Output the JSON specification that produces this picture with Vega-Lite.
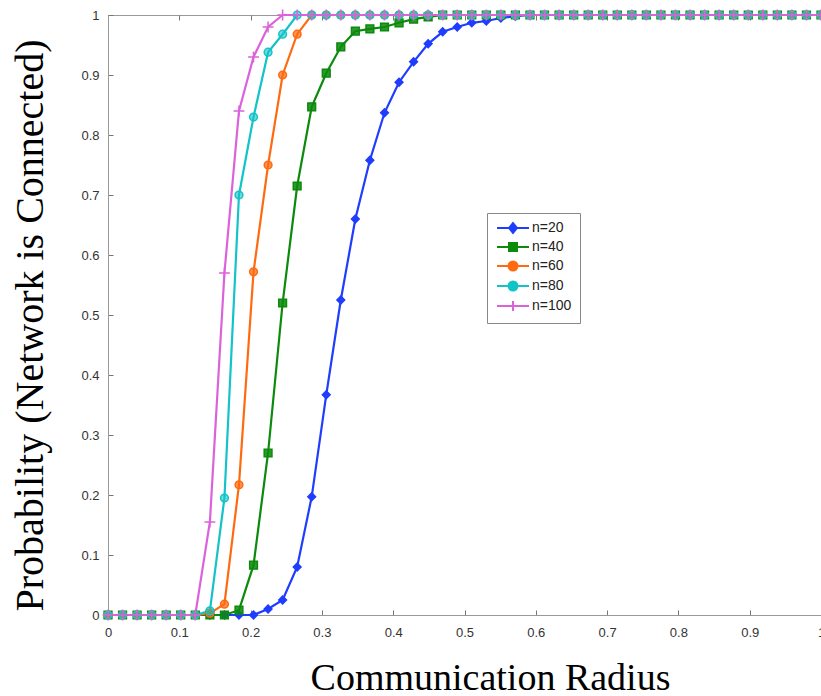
{
 "$schema": "https://vega.github.io/schema/vega-lite/v6.json",
 "width": 713,
 "height": 600,
 "autosize": "none",
 "padding": {"left": 108, "top": 15, "right": 0, "bottom": 81},
 "background": "white",
 "config": {"view": {"stroke": "#999", "strokeWidth": 1}, "axis": {"grid": false}},
 "data": {"values": [
  {"r":0,"p":0,"n":"n=20"},{"r":0.0204,"p":0,"n":"n=20"},{"r":0.0408,"p":0,"n":"n=20"},{"r":0.0612,"p":0,"n":"n=20"},{"r":0.0816,"p":0,"n":"n=20"},{"r":0.102,"p":0,"n":"n=20"},{"r":0.1224,"p":0,"n":"n=20"},{"r":0.1429,"p":0,"n":"n=20"},{"r":0.1633,"p":0,"n":"n=20"},{"r":0.1837,"p":0,"n":"n=20"},{"r":0.2041,"p":0,"n":"n=20"},{"r":0.2245,"p":0.01,"n":"n=20"},{"r":0.2449,"p":0.025,"n":"n=20"},{"r":0.2653,"p":0.08,"n":"n=20"},{"r":0.2857,"p":0.197,"n":"n=20"},{"r":0.3061,"p":0.367,"n":"n=20"},{"r":0.3265,"p":0.525,"n":"n=20"},{"r":0.3469,"p":0.66,"n":"n=20"},{"r":0.3673,"p":0.758,"n":"n=20"},{"r":0.3878,"p":0.837,"n":"n=20"},{"r":0.4082,"p":0.888,"n":"n=20"},{"r":0.4286,"p":0.922,"n":"n=20"},{"r":0.449,"p":0.952,"n":"n=20"},{"r":0.4694,"p":0.972,"n":"n=20"},{"r":0.4898,"p":0.98,"n":"n=20"},{"r":0.5102,"p":0.987,"n":"n=20"},{"r":0.5306,"p":0.99,"n":"n=20"},{"r":0.551,"p":0.995,"n":"n=20"},{"r":0.5714,"p":0.998,"n":"n=20"},{"r":0.5918,"p":1,"n":"n=20"},{"r":0.6122,"p":1,"n":"n=20"},{"r":0.6327,"p":1,"n":"n=20"},{"r":0.6531,"p":1,"n":"n=20"},{"r":0.6735,"p":1,"n":"n=20"},{"r":0.6939,"p":1,"n":"n=20"},{"r":0.7143,"p":1,"n":"n=20"},{"r":0.7347,"p":1,"n":"n=20"},{"r":0.7551,"p":1,"n":"n=20"},{"r":0.7755,"p":1,"n":"n=20"},{"r":0.7959,"p":1,"n":"n=20"},{"r":0.8163,"p":1,"n":"n=20"},{"r":0.8367,"p":1,"n":"n=20"},{"r":0.8571,"p":1,"n":"n=20"},{"r":0.8776,"p":1,"n":"n=20"},{"r":0.898,"p":1,"n":"n=20"},{"r":0.9184,"p":1,"n":"n=20"},{"r":0.9388,"p":1,"n":"n=20"},{"r":0.9592,"p":1,"n":"n=20"},{"r":0.9796,"p":1,"n":"n=20"},{"r":1,"p":1,"n":"n=20"},
  {"r":0,"p":0,"n":"n=40"},{"r":0.0204,"p":0,"n":"n=40"},{"r":0.0408,"p":0,"n":"n=40"},{"r":0.0612,"p":0,"n":"n=40"},{"r":0.0816,"p":0,"n":"n=40"},{"r":0.102,"p":0,"n":"n=40"},{"r":0.1224,"p":0,"n":"n=40"},{"r":0.1429,"p":0,"n":"n=40"},{"r":0.1633,"p":0,"n":"n=40"},{"r":0.1837,"p":0.008,"n":"n=40"},{"r":0.2041,"p":0.083,"n":"n=40"},{"r":0.2245,"p":0.27,"n":"n=40"},{"r":0.2449,"p":0.52,"n":"n=40"},{"r":0.2653,"p":0.715,"n":"n=40"},{"r":0.2857,"p":0.847,"n":"n=40"},{"r":0.3061,"p":0.903,"n":"n=40"},{"r":0.3265,"p":0.947,"n":"n=40"},{"r":0.3469,"p":0.973,"n":"n=40"},{"r":0.3673,"p":0.977,"n":"n=40"},{"r":0.3878,"p":0.98,"n":"n=40"},{"r":0.4082,"p":0.987,"n":"n=40"},{"r":0.4286,"p":0.993,"n":"n=40"},{"r":0.449,"p":0.997,"n":"n=40"},{"r":0.4694,"p":1,"n":"n=40"},{"r":0.4898,"p":1,"n":"n=40"},{"r":0.5102,"p":1,"n":"n=40"},{"r":0.5306,"p":1,"n":"n=40"},{"r":0.551,"p":1,"n":"n=40"},{"r":0.5714,"p":1,"n":"n=40"},{"r":0.5918,"p":1,"n":"n=40"},{"r":0.6122,"p":1,"n":"n=40"},{"r":0.6327,"p":1,"n":"n=40"},{"r":0.6531,"p":1,"n":"n=40"},{"r":0.6735,"p":1,"n":"n=40"},{"r":0.6939,"p":1,"n":"n=40"},{"r":0.7143,"p":1,"n":"n=40"},{"r":0.7347,"p":1,"n":"n=40"},{"r":0.7551,"p":1,"n":"n=40"},{"r":0.7755,"p":1,"n":"n=40"},{"r":0.7959,"p":1,"n":"n=40"},{"r":0.8163,"p":1,"n":"n=40"},{"r":0.8367,"p":1,"n":"n=40"},{"r":0.8571,"p":1,"n":"n=40"},{"r":0.8776,"p":1,"n":"n=40"},{"r":0.898,"p":1,"n":"n=40"},{"r":0.9184,"p":1,"n":"n=40"},{"r":0.9388,"p":1,"n":"n=40"},{"r":0.9592,"p":1,"n":"n=40"},{"r":0.9796,"p":1,"n":"n=40"},{"r":1,"p":1,"n":"n=40"},
  {"r":0,"p":0,"n":"n=60"},{"r":0.0204,"p":0,"n":"n=60"},{"r":0.0408,"p":0,"n":"n=60"},{"r":0.0612,"p":0,"n":"n=60"},{"r":0.0816,"p":0,"n":"n=60"},{"r":0.102,"p":0,"n":"n=60"},{"r":0.1224,"p":0,"n":"n=60"},{"r":0.1429,"p":0.003,"n":"n=60"},{"r":0.1633,"p":0.018,"n":"n=60"},{"r":0.1837,"p":0.217,"n":"n=60"},{"r":0.2041,"p":0.572,"n":"n=60"},{"r":0.2245,"p":0.75,"n":"n=60"},{"r":0.2449,"p":0.9,"n":"n=60"},{"r":0.2653,"p":0.968,"n":"n=60"},{"r":0.2857,"p":1,"n":"n=60"},{"r":0.3061,"p":1,"n":"n=60"},{"r":0.3265,"p":1,"n":"n=60"},{"r":0.3469,"p":1,"n":"n=60"},{"r":0.3673,"p":1,"n":"n=60"},{"r":0.3878,"p":1,"n":"n=60"},{"r":0.4082,"p":1,"n":"n=60"},{"r":0.4286,"p":1,"n":"n=60"},{"r":0.449,"p":1,"n":"n=60"},{"r":0.4694,"p":1,"n":"n=60"},{"r":0.4898,"p":1,"n":"n=60"},{"r":0.5102,"p":1,"n":"n=60"},{"r":0.5306,"p":1,"n":"n=60"},{"r":0.551,"p":1,"n":"n=60"},{"r":0.5714,"p":1,"n":"n=60"},{"r":0.5918,"p":1,"n":"n=60"},{"r":0.6122,"p":1,"n":"n=60"},{"r":0.6327,"p":1,"n":"n=60"},{"r":0.6531,"p":1,"n":"n=60"},{"r":0.6735,"p":1,"n":"n=60"},{"r":0.6939,"p":1,"n":"n=60"},{"r":0.7143,"p":1,"n":"n=60"},{"r":0.7347,"p":1,"n":"n=60"},{"r":0.7551,"p":1,"n":"n=60"},{"r":0.7755,"p":1,"n":"n=60"},{"r":0.7959,"p":1,"n":"n=60"},{"r":0.8163,"p":1,"n":"n=60"},{"r":0.8367,"p":1,"n":"n=60"},{"r":0.8571,"p":1,"n":"n=60"},{"r":0.8776,"p":1,"n":"n=60"},{"r":0.898,"p":1,"n":"n=60"},{"r":0.9184,"p":1,"n":"n=60"},{"r":0.9388,"p":1,"n":"n=60"},{"r":0.9592,"p":1,"n":"n=60"},{"r":0.9796,"p":1,"n":"n=60"},{"r":1,"p":1,"n":"n=60"},
  {"r":0,"p":0,"n":"n=80"},{"r":0.0204,"p":0,"n":"n=80"},{"r":0.0408,"p":0,"n":"n=80"},{"r":0.0612,"p":0,"n":"n=80"},{"r":0.0816,"p":0,"n":"n=80"},{"r":0.102,"p":0,"n":"n=80"},{"r":0.1224,"p":0,"n":"n=80"},{"r":0.1429,"p":0.007,"n":"n=80"},{"r":0.1633,"p":0.195,"n":"n=80"},{"r":0.1837,"p":0.7,"n":"n=80"},{"r":0.2041,"p":0.83,"n":"n=80"},{"r":0.2245,"p":0.938,"n":"n=80"},{"r":0.2449,"p":0.968,"n":"n=80"},{"r":0.2653,"p":1,"n":"n=80"},{"r":0.2857,"p":1,"n":"n=80"},{"r":0.3061,"p":1,"n":"n=80"},{"r":0.3265,"p":1,"n":"n=80"},{"r":0.3469,"p":1,"n":"n=80"},{"r":0.3673,"p":1,"n":"n=80"},{"r":0.3878,"p":1,"n":"n=80"},{"r":0.4082,"p":1,"n":"n=80"},{"r":0.4286,"p":1,"n":"n=80"},{"r":0.449,"p":1,"n":"n=80"},{"r":0.4694,"p":1,"n":"n=80"},{"r":0.4898,"p":1,"n":"n=80"},{"r":0.5102,"p":1,"n":"n=80"},{"r":0.5306,"p":1,"n":"n=80"},{"r":0.551,"p":1,"n":"n=80"},{"r":0.5714,"p":1,"n":"n=80"},{"r":0.5918,"p":1,"n":"n=80"},{"r":0.6122,"p":1,"n":"n=80"},{"r":0.6327,"p":1,"n":"n=80"},{"r":0.6531,"p":1,"n":"n=80"},{"r":0.6735,"p":1,"n":"n=80"},{"r":0.6939,"p":1,"n":"n=80"},{"r":0.7143,"p":1,"n":"n=80"},{"r":0.7347,"p":1,"n":"n=80"},{"r":0.7551,"p":1,"n":"n=80"},{"r":0.7755,"p":1,"n":"n=80"},{"r":0.7959,"p":1,"n":"n=80"},{"r":0.8163,"p":1,"n":"n=80"},{"r":0.8367,"p":1,"n":"n=80"},{"r":0.8571,"p":1,"n":"n=80"},{"r":0.8776,"p":1,"n":"n=80"},{"r":0.898,"p":1,"n":"n=80"},{"r":0.9184,"p":1,"n":"n=80"},{"r":0.9388,"p":1,"n":"n=80"},{"r":0.9592,"p":1,"n":"n=80"},{"r":0.9796,"p":1,"n":"n=80"},{"r":1,"p":1,"n":"n=80"},
  {"r":0,"p":0,"n":"n=100"},{"r":0.0204,"p":0,"n":"n=100"},{"r":0.0408,"p":0,"n":"n=100"},{"r":0.0612,"p":0,"n":"n=100"},{"r":0.0816,"p":0,"n":"n=100"},{"r":0.102,"p":0,"n":"n=100"},{"r":0.1224,"p":0,"n":"n=100"},{"r":0.1429,"p":0.155,"n":"n=100"},{"r":0.1633,"p":0.57,"n":"n=100"},{"r":0.1837,"p":0.84,"n":"n=100"},{"r":0.2041,"p":0.93,"n":"n=100"},{"r":0.2245,"p":0.98,"n":"n=100"},{"r":0.2449,"p":1,"n":"n=100"},{"r":0.2653,"p":1,"n":"n=100"},{"r":0.2857,"p":1,"n":"n=100"},{"r":0.3061,"p":1,"n":"n=100"},{"r":0.3265,"p":1,"n":"n=100"},{"r":0.3469,"p":1,"n":"n=100"},{"r":0.3673,"p":1,"n":"n=100"},{"r":0.3878,"p":1,"n":"n=100"},{"r":0.4082,"p":1,"n":"n=100"},{"r":0.4286,"p":1,"n":"n=100"},{"r":0.449,"p":1,"n":"n=100"},{"r":0.4694,"p":1,"n":"n=100"},{"r":0.4898,"p":1,"n":"n=100"},{"r":0.5102,"p":1,"n":"n=100"},{"r":0.5306,"p":1,"n":"n=100"},{"r":0.551,"p":1,"n":"n=100"},{"r":0.5714,"p":1,"n":"n=100"},{"r":0.5918,"p":1,"n":"n=100"},{"r":0.6122,"p":1,"n":"n=100"},{"r":0.6327,"p":1,"n":"n=100"},{"r":0.6531,"p":1,"n":"n=100"},{"r":0.6735,"p":1,"n":"n=100"},{"r":0.6939,"p":1,"n":"n=100"},{"r":0.7143,"p":1,"n":"n=100"},{"r":0.7347,"p":1,"n":"n=100"},{"r":0.7551,"p":1,"n":"n=100"},{"r":0.7755,"p":1,"n":"n=100"},{"r":0.7959,"p":1,"n":"n=100"},{"r":0.8163,"p":1,"n":"n=100"},{"r":0.8367,"p":1,"n":"n=100"},{"r":0.8571,"p":1,"n":"n=100"},{"r":0.8776,"p":1,"n":"n=100"},{"r":0.898,"p":1,"n":"n=100"},{"r":0.9184,"p":1,"n":"n=100"},{"r":0.9388,"p":1,"n":"n=100"},{"r":0.9592,"p":1,"n":"n=100"},{"r":0.9796,"p":1,"n":"n=100"},{"r":1,"p":1,"n":"n=100"}
 ]},
 "resolve": {"scale": {"color": "independent", "shape": "independent", "stroke": "independent"}, "axis": {"x": "independent", "y": "independent"}},
 "layer": [
  {
   "mark": {"type": "line", "strokeWidth": 2.2},
   "encoding": {
    "x": {"field": "r", "type": "quantitative", "scale": {"domain": [0, 1], "nice": false, "zero": false},
     "axis": {"orient": "bottom", "values": [0,0.1,0.2,0.3,0.4,0.5,0.6,0.7,0.8,0.9,1], "format": ".1~f", "tickSize": -5, "labelPadding": 16, "labelFlush": false, "labelOverlap": false, "labelBound": false, "labelFont": "Liberation Sans", "labelFontSize": 13, "labelColor": "#333", "domainColor": "#999", "tickColor": "#777", "title": "Communication Radius", "titleFont": "Liberation Serif", "titleFontSize": 38, "titleFontWeight": "normal", "titleColor": "#000", "titleX": 382, "titleY": 74, "titleBaseline": "alphabetic", "titleAlign": "center", "titleAnchor": null}},
    "y": {"field": "p", "type": "quantitative", "scale": {"domain": [0, 1], "nice": false, "zero": false},
     "axis": {"orient": "left", "values": [0,0.1,0.2,0.3,0.4,0.5,0.6,0.7,0.8,0.9,1], "format": ".1~f", "tickSize": -5, "labelPadding": 14, "labelFlush": false, "labelOverlap": false, "labelBound": false, "labelFont": "Liberation Sans", "labelFontSize": 13, "labelColor": "#333", "domainColor": "#999", "tickColor": "#777", "title": "Probability (Network is Connected)", "titleFont": "Liberation Serif", "titleFontSize": 40, "titleFontWeight": "normal", "titleColor": "#000", "titleX": -66, "titleY": 310, "titleAngle": -90, "titleBaseline": "alphabetic", "titleAlign": "center", "titleAnchor": null}},
    "color": {"field": "n", "type": "nominal", "scale": {"domain": ["n=20","n=40","n=60","n=80","n=100"], "range": ["#1f3dff","#0c8a0c","#ff6a10","#12c3c8","#dc62dc"]}, "legend": null}
   }
  },
  {
   "mark": {"type": "point", "filled": true, "size": 60, "strokeWidth": 1.5, "opacity": 1},
   "encoding": {
    "x": {"field": "r", "type": "quantitative", "scale": {"domain": [0, 1], "nice": false, "zero": false},
     "axis": {"orient": "top", "values": [0,0.1,0.2,0.3,0.4,0.5,0.6,0.7,0.8,0.9,1], "labels": false, "domain": false, "tickSize": -5, "tickColor": "#777", "title": null}},
    "y": {"field": "p", "type": "quantitative", "scale": {"domain": [0, 1], "nice": false, "zero": false}, "axis": null},
    "color": {"field": "n", "type": "nominal", "scale": {"domain": ["n=20","n=40","n=60","n=80","n=100"], "range": ["#1f3dff","#0c8a0c","#ff6a10","#12c3c8","#dc62dc"]}, "legend": null},
    "stroke": {"field": "n", "type": "nominal", "scale": {"domain": ["n=20","n=40","n=60","n=80","n=100"], "range": ["#1f3dff","#0c8a0c","#ff6a10","#12c3c8","#dc62dc"]}, "legend": null},
    "fillOpacity": {"field": "n", "type": "nominal", "scale": {"domain": ["n=20","n=40","n=60","n=80","n=100"], "range": [1, 0.45, 1, 0.45, 1]}, "legend": null},
    "shape": {"field": "n", "type": "nominal", "scale": {"domain": ["n=20","n=40","n=60","n=80","n=100"], "range": ["diamond", "square", "circle", "circle", "M-1.4,0H1.4M0,-1.4V1.4"]}, "legend": null}
   }
  },
  {
   "mark": {"type": "point", "filled": true, "size": 100, "strokeWidth": 2, "opacity": 0},
   "encoding": {
    "x": {"field": "r", "type": "quantitative", "scale": {"domain": [0, 1], "nice": false, "zero": false}, "axis": null},
    "y": {"field": "p", "type": "quantitative", "scale": {"domain": [0, 1], "nice": false, "zero": false}, "axis": null},
    "color": {"field": "n", "type": "nominal", "scale": {"domain": ["n=20","n=40","n=60","n=80","n=100"], "range": ["#1f3dff","#0c8a0c","#ff6a10","#12c3c8","#dc62dc"]},
     "legend": {"title": null, "orient": "none", "legendX": 379, "legendY": 198, "fillColor": "white", "strokeColor": "#888", "padding": 8, "symbolSize": 100, "symbolStrokeWidth": 2, "symbolOpacity": 1, "symbolOffset": 11, "labelOffset": 12, "rowPadding": 2, "labelFont": "Liberation Sans", "labelFontSize": 14, "labelColor": "#222", "cornerRadius": 0}},
    "stroke": {"field": "n", "type": "nominal", "scale": {"domain": ["n=20","n=40","n=60","n=80","n=100"], "range": ["#1f3dff","#0c8a0c","#ff6a10","#12c3c8","#dc62dc"]},
     "legend": {"title": null, "orient": "none", "legendX": 379, "legendY": 198, "fillColor": "white", "strokeColor": "#888", "padding": 8, "symbolSize": 100, "symbolStrokeWidth": 2, "symbolOpacity": 1, "symbolOffset": 11, "labelOffset": 12, "rowPadding": 2, "labelFont": "Liberation Sans", "labelFontSize": 14, "labelColor": "#222", "cornerRadius": 0}},
    "shape": {"field": "n", "type": "nominal", "scale": {"domain": ["n=20","n=40","n=60","n=80","n=100"], "range": ["M-3.2,0H3.2M0,-1L0.8,0L0,1L-0.8,0Z", "M-3.2,0H3.2M-0.8,-0.8H0.8V0.8H-0.8Z", "M-3.2,0H3.2M-0.9,0A0.9,0.9,0,1,0,0.9,0A0.9,0.9,0,1,0,-0.9,0Z", "M-3.2,0H3.2M-0.9,0A0.9,0.9,0,1,0,0.9,0A0.9,0.9,0,1,0,-0.9,0Z", "M-3.2,0H3.2M0,-1V1"]},
     "legend": {"title": null, "orient": "none", "legendX": 379, "legendY": 198, "fillColor": "white", "strokeColor": "#888", "padding": 8, "symbolSize": 100, "symbolStrokeWidth": 2, "symbolOpacity": 1, "symbolOffset": 11, "labelOffset": 12, "rowPadding": 2, "labelFont": "Liberation Sans", "labelFontSize": 14, "labelColor": "#222", "cornerRadius": 0}}
   }
  }
 ]
}
